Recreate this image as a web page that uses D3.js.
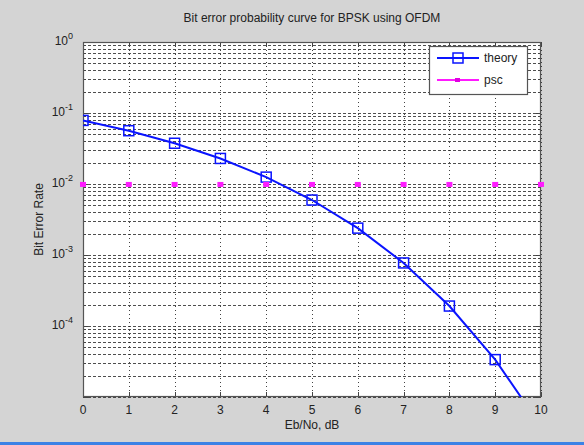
<!DOCTYPE html>
<html>
<head>
<meta charset="utf-8">
<script src="https://cdn.jsdelivr.net/npm/d3@7"></script>
<style>
  html, body { margin: 0; padding: 0; background: #d4d4d4; }
  svg { display: block; font-family: "Liberation Sans", Arial, sans-serif; }
</style>
</head>
<body>
<svg id="chart" width="584" height="445"></svg>
<script>
// Eb/No sweep in dB
const ebno = [0, 1, 2, 3, 4, 5, 6, 7, 8, 9, 10];
// Theoretical BPSK bit error rate
const theory = [0.0786, 0.0563, 0.0375, 0.0229, 0.0125, 0.00595, 0.00239, 0.000773, 0.000191, 0.0000336, 0.00000387];
// Simulated OFDM result
const psc = [0.0097, 0.0097, 0.0097, 0.0097, 0.0097, 0.0097, 0.0097, 0.0097, 0.0097, 0.0097, 0.0097];
const xTicks = [0, 1, 2, 3, 4, 5, 6, 7, 8, 9, 10];
const yExponents = [0, -1, -2, -3, -4];
const seriesNames = ["theory", "psc"];

const svg = d3.select("#chart");
const W = 584, H = 445;
const m = { left: 83, right: 43, top: 42, bottom: 48 };
const pw = W - m.left - m.right, ph = H - m.top - m.bottom;

// figure background and window edge
svg.append("rect").attr("width", W).attr("height", H).attr("fill", "#d4d4d4");
svg.append("rect").attr("x", 0).attr("y", H - 3).attr("width", W).attr("height", 3).attr("fill", "#3c82e6");

const x = d3.scaleLinear().domain([0, 10]).range([m.left, m.left + pw]);
const y = d3.scaleLog().domain([1e-5, 1]).range([m.top + ph, m.top]);

const plot = svg.append("g");
plot.append("rect").attr("x", m.left).attr("y", m.top).attr("width", pw).attr("height", ph).attr("fill", "#fff");

// grid: minor + major log lines horizontally, major lines vertically
const yGrid = [];
for (let e = -5; e < 0; e++) for (let k = 1; k <= 9; k++) yGrid.push(k * Math.pow(10, e));
yGrid.push(1);
const grid = plot.append("g").attr("stroke", "#222").attr("stroke-width", 1);
grid.selectAll("line.h").data(yGrid).join("line")
  .attr("x1", m.left).attr("x2", m.left + pw)
  .attr("y1", d => Math.round(y(d)) + 0.5).attr("y2", d => Math.round(y(d)) + 0.5)
  .attr("stroke-dasharray", "3,2").attr("stroke-opacity", 0.8);
grid.selectAll("line.v").data(xTicks).join("line")
  .attr("x1", d => Math.round(x(d)) + 0.5).attr("x2", d => Math.round(x(d)) + 0.5)
  .attr("y1", m.top).attr("y2", m.top + ph)
  .attr("stroke-dasharray", "1,3").attr("stroke-opacity", 0.85);

// inward tick marks on all four sides
const ticks = plot.append("g").attr("stroke", "#444").attr("stroke-width", 1);
xTicks.forEach(t => {
  const px = Math.round(x(t)) + 0.5;
  ticks.append("line").attr("x1", px).attr("x2", px).attr("y1", m.top + ph).attr("y2", m.top + ph - 5);
  ticks.append("line").attr("x1", px).attr("x2", px).attr("y1", m.top).attr("y2", m.top + 5);
});
yGrid.forEach(v => {
  const py = Math.round(y(v)) + 0.5;
  const major = Math.abs(Math.log10(v) - Math.round(Math.log10(v))) < 1e-9;
  const len = major ? 5 : 3;
  ticks.append("line").attr("x1", m.left).attr("x2", m.left + len).attr("y1", py).attr("y2", py);
  ticks.append("line").attr("x1", m.left + pw).attr("x2", m.left + pw - len).attr("y1", py).attr("y2", py);
});

// plot frame
plot.append("rect").attr("x", m.left + 0.5).attr("y", m.top + 0.5).attr("width", pw - 1).attr("height", ph - 1)
  .attr("fill", "none").attr("stroke", "#555").attr("stroke-width", 1.2);

// x tick labels
svg.append("g").selectAll("text").data(xTicks).join("text")
  .attr("x", d => x(d)).attr("y", m.top + ph + 17)
  .attr("text-anchor", "middle").attr("font-size", 12).attr("fill", "#222")
  .text(d => d);

// y tick labels 10^n
const yl = svg.append("g").attr("fill", "#222");
yExponents.forEach(e => {
  const t = yl.append("text").attr("x", m.left - 10).attr("y", y(Math.pow(10, e)) + 3)
    .attr("text-anchor", "end").attr("font-size", 12);
  t.append("tspan").text("10");
  t.append("tspan").attr("dy", -6).attr("font-size", 9).text(e);
});

// titles
svg.append("text").attr("x", m.left + pw / 2).attr("y", 22).attr("text-anchor", "middle")
  .attr("font-size", 12).attr("fill", "#222").text("Bit error probability curve for BPSK using OFDM");
svg.append("text").attr("x", m.left + pw / 2).attr("y", 429).attr("text-anchor", "middle")
  .attr("font-size", 12).attr("fill", "#222").text("Eb/No, dB");
svg.append("text").attr("transform", `translate(43,${m.top + ph / 2}) rotate(-90)`).attr("text-anchor", "middle")
  .attr("font-size", 12).attr("fill", "#222").text("Bit Error Rate");

// data series, clipped to the axes box
svg.append("clipPath").attr("id", "clip").append("rect")
  .attr("x", m.left).attr("y", m.top).attr("width", pw).attr("height", ph);
const data = plot.append("g").attr("clip-path", "url(#clip)");

const pts = ebno.map((e, i) => [e, theory[i]]);
data.append("path").datum(pts)
  .attr("d", d3.line().x(d => x(d[0])).y(d => y(d[1])))
  .attr("fill", "none").attr("stroke", "#0a14ff").attr("stroke-width", 2);
data.selectAll("rect.th").data(pts).join("rect")
  .attr("x", d => x(d[0]) - 5).attr("y", d => y(d[1]) - 5).attr("width", 10).attr("height", 10)
  .attr("fill", "none").attr("stroke", "#0a14ff").attr("stroke-width", 1.5);

const pscPts = ebno.map((e, i) => [e, psc[i]]);
svg.append("g").selectAll("rect").data(pscPts).join("rect")
  .attr("x", d => x(d[0]) - 3).attr("y", d => y(d[1]) - 3).attr("width", 6).attr("height", 5)
  .attr("fill", "#ff1aff");

// legend
const lg = svg.append("g").attr("transform", "translate(429,46)");
lg.append("rect").attr("x", 0.5).attr("y", 0.5).attr("width", 98).attr("height", 48)
  .attr("fill", "#fff").attr("stroke", "#555").attr("stroke-width", 1.2);
lg.append("line").attr("x1", 8).attr("x2", 50).attr("y1", 12).attr("y2", 12).attr("stroke", "#0a14ff").attr("stroke-width", 2);
lg.append("rect").attr("x", 24).attr("y", 7).attr("width", 10).attr("height", 10)
  .attr("fill", "none").attr("stroke", "#0a14ff").attr("stroke-width", 1.5);
lg.append("line").attr("x1", 8).attr("x2", 50).attr("y1", 34).attr("y2", 34).attr("stroke", "#ff1aff").attr("stroke-width", 2);
lg.append("rect").attr("x", 26).attr("y", 32).attr("width", 5).attr("height", 4).attr("fill", "#e000e0");
lg.selectAll("text").data(seriesNames).join("text")
  .attr("x", 55).attr("y", (d, i) => 16 + i * 22)
  .attr("font-size", 12).attr("fill", "#222").text(d => d);
</script>
</body>
</html>
